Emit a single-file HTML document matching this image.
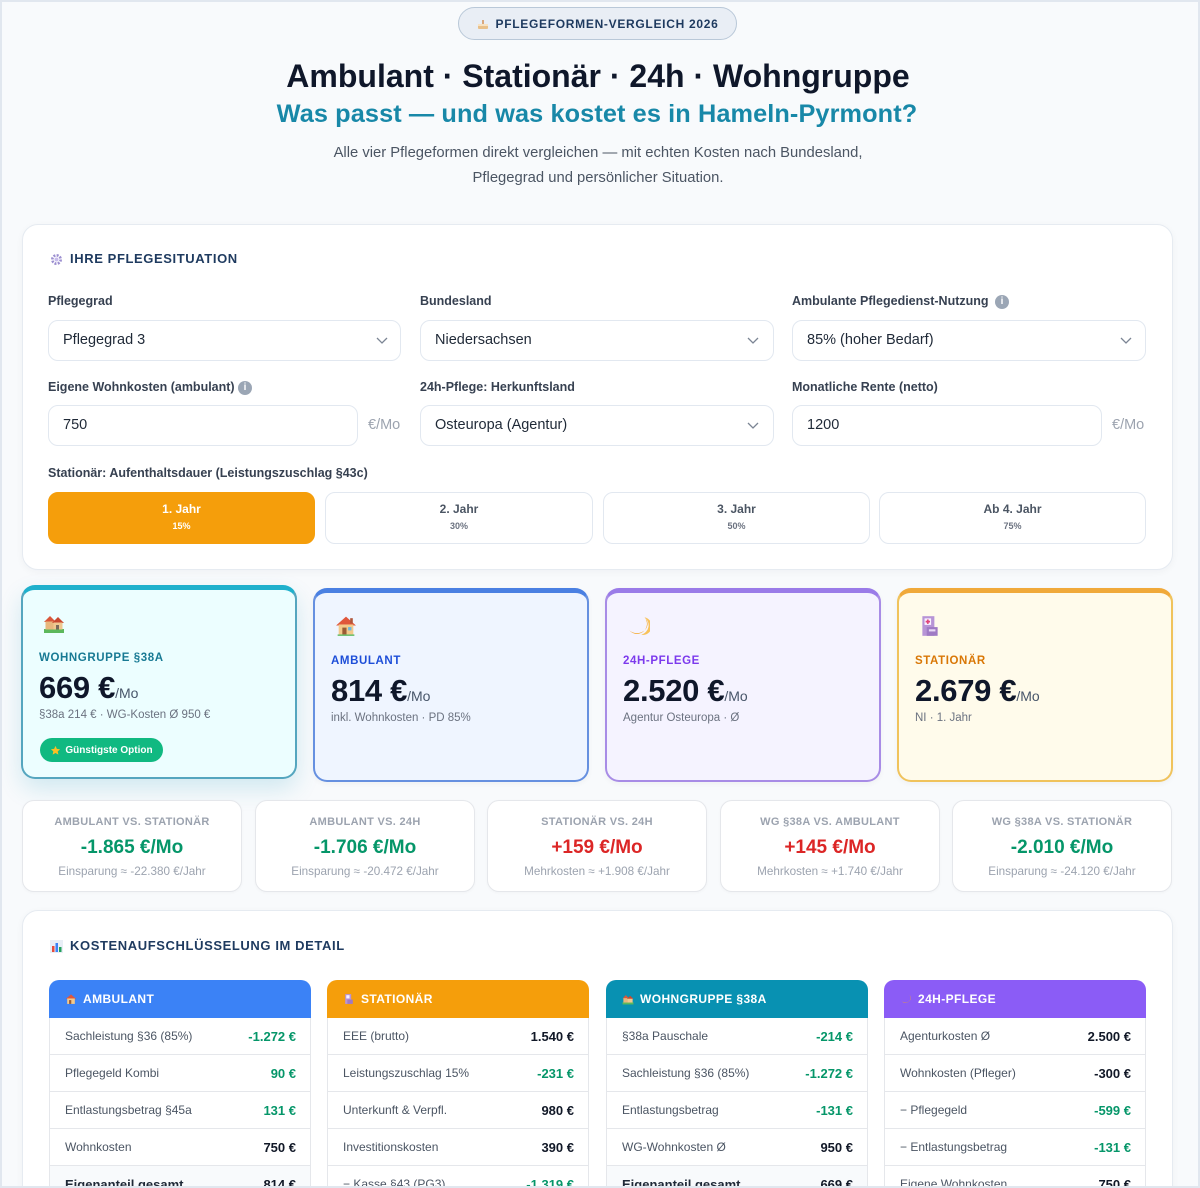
<!DOCTYPE html>
<html><head><meta charset="utf-8">
<style>
*{box-sizing:border-box;margin:0;padding:0}
html,body{width:1200px;height:1188px;overflow:hidden;background:#f8fafc;font-family:"Liberation Sans",sans-serif;position:relative}
.a{position:absolute;white-space:nowrap}
.frame{position:absolute;left:0;top:0;width:1200px;height:1188px;border:2px solid #e1e7ef;pointer-events:none;z-index:50}
.lbl{position:absolute;font-size:12.5px;font-weight:bold;color:#374151;line-height:16px;white-space:nowrap}
.box{position:absolute;height:41px;border:1px solid #e2e8f0;border-radius:10px;background:#fff;font-size:14.5px;color:#1f2937;line-height:39px;padding-left:14px;white-space:nowrap}
.chev{position:absolute;width:12px;height:7px}
.unit{position:absolute;font-size:14.5px;color:#9ca3af;line-height:41px}
.info{position:absolute;width:14px;height:14px;border-radius:50%;background:#9ba6b5;color:#fff;font-size:10px;font-weight:bold;text-align:center;line-height:14px}
.btn{position:absolute;top:492px;height:52px;border-radius:10px;background:#fff;border:1px solid #e2e8f0;text-align:center}
.btn .t1{position:absolute;left:0;right:0;top:8px;font-size:12px;font-weight:bold;line-height:16px;color:#4b5563}
.btn .t2{position:absolute;left:0;right:0;top:27px;font-size:9px;font-weight:bold;line-height:12px;color:#6b7280}
.btn.on{background:#f59e0b;border-color:#f59e0b}
.btn.on .t1,.btn.on .t2{color:#fff}
.card{position:absolute;width:276px;height:194px;border-radius:14px;border:2px solid;border-top-width:5px}
.clab{position:absolute;font-size:11.5px;font-weight:bold;letter-spacing:.6px;line-height:16px;white-space:nowrap}
.cval{position:absolute;font-size:31px;font-weight:bold;color:#0f172a;line-height:36px;white-space:nowrap;letter-spacing:-.3px}
.cval span{font-size:14px;font-weight:normal;color:#475569;letter-spacing:0}
.csub{position:absolute;font-size:11.5px;color:#6b7280;line-height:16px;white-space:nowrap}
.cmp{position:absolute;top:800px;width:220px;height:92px;background:#fff;border:1px solid #e5e7eb;border-radius:12px;text-align:center;box-shadow:0 1px 3px rgba(0,0,0,.03)}
.cmp .h{position:absolute;left:0;right:0;top:13px;font-size:11px;font-weight:bold;color:#9ca3af;letter-spacing:.3px;line-height:16px}
.cmp .v{position:absolute;left:0;right:0;top:35px;font-size:19px;font-weight:bold;line-height:24px}
.cmp .s{position:absolute;left:0;right:0;top:63px;font-size:11.7px;color:#9ca3af;line-height:16px}
.g{color:#059669}.r{color:#dc2626}.d{color:#111827}
.tbl{position:absolute;top:980px;width:262px}
.th{height:38px;border-radius:10px 10px 0 0;color:#fff;font-size:12px;font-weight:bold;letter-spacing:.4px;display:flex;align-items:center;padding-left:16px;gap:6px}
.tr{height:37px;border:1px solid #e5e7eb;border-top:none;display:flex;justify-content:space-between;align-items:center;padding:0 14px 0 15px;background:#fff}
.tr .l{font-size:12px;color:#4b5563}
.tr .v{font-size:13px;font-weight:bold}
.tr.tot{background:#f8fafc}
.tr.tot .l{font-weight:bold;color:#1f2937;font-size:13px}
</style></head><body>
<div class="frame"></div>

<!-- Badge -->
<div class="a" style="left:458px;top:7px;width:279px;height:33px;border:1.5px solid #b9c8d8;border-radius:17px;background:#e9eef5;display:flex;align-items:center;justify-content:center;gap:7px">
<svg width="12" height="12" viewBox="0 0 12 12"><rect x="1" y="6" width="10" height="5" rx="1" fill="#e9c089"/><rect x="1" y="6" width="10" height="2" fill="#f7e2c2"/><rect x="5.3" y="2" width="1.4" height="4" fill="#d28b4a"/></svg>
<span style="font-size:12px;font-weight:bold;letter-spacing:.7px;color:#1e3a5f">PFLEGEFORMEN-VERGLEICH 2026</span></div>

<div class="a" style="left:0;width:1196px;text-align:center;top:55px;line-height:42px;font-size:32px;font-weight:bold;color:#0f172a">Ambulant · Stationär · 24h · Wohngruppe</div>
<div class="a" style="left:0;width:1194px;text-align:center;top:98px;line-height:32px;font-size:25.3px;font-weight:bold;color:#1888a8;letter-spacing:.1px">Was passt — und was kostet es in Hameln-Pyrmont?</div>
<div class="a" style="left:0;width:1196px;text-align:center;top:141px;line-height:25px;font-size:14.8px;color:#4b5563">Alle vier Pflegeformen direkt vergleichen — mit echten Kosten nach Bundesland,<br>Pflegegrad und persönlicher Situation.</div>

<!-- Form card -->
<div class="a" style="left:22px;top:224px;width:1151px;height:346px;background:#fff;border:1px solid #e6ebf1;border-radius:16px;box-shadow:0 2px 8px rgba(15,23,42,.04)"></div>
<svg class="a" style="left:50px;top:253px" width="13" height="13" viewBox="0 0 13 13"><circle cx="6.5" cy="6.5" r="4.2" fill="none" stroke="#9c8fd0" stroke-width="2.6" stroke-dasharray="2 1.3"/><circle cx="6.5" cy="6.5" r="2" fill="#c8bdec"/></svg>
<div class="a" style="left:70px;top:251px;line-height:16px;font-size:13px;font-weight:bold;letter-spacing:.6px;color:#1e3a5f">IHRE PFLEGESITUATION</div>

<div class="lbl" style="left:48px;top:293px">Pflegegrad</div>
<div class="lbl" style="left:420px;top:293px">Bundesland</div>
<div class="lbl" style="left:792px;top:293px">Ambulante Pflegedienst-Nutzung</div>
<div class="info" style="left:995px;top:295px">i</div>

<div class="box" style="left:48px;top:320px;width:353px">Pflegegrad 3</div>
<div class="box" style="left:420px;top:320px;width:354px">Niedersachsen</div>
<div class="box" style="left:792px;top:320px;width:354px">85% (hoher Bedarf)</div>
<svg class="chev" style="left:376px;top:337px" viewBox="0 0 12 7"><polyline points="1,1 6,6 11,1" fill="none" stroke="#7b8594" stroke-width="1.3"/></svg>
<svg class="chev" style="left:747px;top:337px" viewBox="0 0 12 7"><polyline points="1,1 6,6 11,1" fill="none" stroke="#7b8594" stroke-width="1.3"/></svg>
<svg class="chev" style="left:1120px;top:337px" viewBox="0 0 12 7"><polyline points="1,1 6,6 11,1" fill="none" stroke="#7b8594" stroke-width="1.3"/></svg>

<div class="lbl" style="left:48px;top:379px">Eigene Wohnkosten (ambulant)</div>
<div class="info" style="left:238px;top:381px">i</div>
<div class="lbl" style="left:420px;top:379px">24h-Pflege: Herkunftsland</div>
<div class="lbl" style="left:792px;top:379px">Monatliche Rente (netto)</div>

<div class="box" style="left:48px;top:405px;width:310px">750</div>
<div class="unit" style="left:368px;top:405px">€/Mo</div>
<div class="box" style="left:420px;top:405px;width:354px">Osteuropa (Agentur)</div>
<svg class="chev" style="left:747px;top:422px" viewBox="0 0 12 7"><polyline points="1,1 6,6 11,1" fill="none" stroke="#7b8594" stroke-width="1.3"/></svg>
<div class="box" style="left:792px;top:405px;width:310px">1200</div>
<div class="unit" style="left:1112px;top:405px">€/Mo</div>

<div class="lbl" style="left:48px;top:465px">Stationär: Aufenthaltsdauer (Leistungszuschlag §43c)</div>
<div class="btn on" style="left:48px;width:267px"><div class="t1">1. Jahr</div><div class="t2">15%</div></div>
<div class="btn" style="left:325px;width:268px"><div class="t1">2. Jahr</div><div class="t2">30%</div></div>
<div class="btn" style="left:603px;width:267px"><div class="t1">3. Jahr</div><div class="t2">50%</div></div>
<div class="btn" style="left:879px;width:267px"><div class="t1">Ab 4. Jahr</div><div class="t2">75%</div></div>

<!-- Cards -->
<div class="card" style="left:21px;top:585px;background:#ecfeff;border-color:#55a6bf;border-top-color:#1fb0cc;box-shadow:0 10px 24px rgba(8,145,178,.16)"></div>
<div class="card" style="left:313px;top:588px;background:#eff5ff;border-color:#6690e0;border-top-color:#4a80e2;box-shadow:0 2px 6px rgba(0,0,0,.04)"></div>
<div class="card" style="left:605px;top:588px;background:#f5f3ff;border-color:#a88ce6;border-top-color:#9a7be8;box-shadow:0 2px 6px rgba(0,0,0,.04)"></div>
<div class="card" style="left:897px;top:588px;background:#fffbeb;border-color:#f0c35c;border-top-color:#f0a93a;box-shadow:0 2px 6px rgba(0,0,0,.04)"></div>

<!-- card 1 content -->
<svg class="a" style="left:42px;top:612px" width="24" height="22" viewBox="0 0 22 22"><rect x="1" y="17" width="20" height="4" fill="#5cb85c"/><path d="M1 10 L7 4 L13 10Z" fill="#d9573a"/><rect x="2.5" y="9.5" width="9" height="8" fill="#e8b77d"/><path d="M9 11 L15 5 L21 11Z" fill="#c9482f"/><rect x="10.5" y="10.5" width="9" height="7" fill="#f0c890"/><rect x="13" y="13" width="3" height="4.5" fill="#7a6a5a"/></svg>
<div class="clab" style="left:39px;top:650px;color:#187a94">WOHNGRUPPE §38A</div>
<div class="cval" style="left:39px;top:670px">669 €<span>/Mo</span></div>
<div class="csub" style="left:39px;top:707px">§38a 214 € · WG-Kosten Ø 950 €</div>
<div class="a" style="left:40px;top:738px;width:123px;height:24px;border-radius:12px;background:#10b981;display:flex;align-items:center;justify-content:center;gap:4px">
<svg width="11" height="11" viewBox="0 0 24 24"><path d="M12 2l3 6.5 7 .8-5.2 4.8 1.5 7L12 17.5 5.7 21l1.5-7L2 9.3l7-.8z" fill="#fbbf24"/></svg>
<span style="font-size:10px;font-weight:bold;color:#fff">Günstigste Option</span></div>

<!-- card 2 -->
<svg class="a" style="left:334px;top:614px" width="24" height="23" viewBox="0 0 22 22"><path d="M1.5 11 L11 2.5 L20.5 11 Z" fill="#e0563b"/><rect x="4" y="10" width="14" height="10" fill="#f3c98b"/><rect x="7.5" y="13" width="4" height="7" fill="#9a5b34"/><rect x="13" y="12.5" width="3.2" height="3.2" fill="#6bb7e0"/><rect x="15" y="4" width="2.5" height="5" fill="#b0553a"/><rect x="3" y="19.5" width="16" height="1.5" fill="#6cc070"/></svg>
<div class="clab" style="left:331px;top:653px;color:#1d4ed8">AMBULANT</div>
<div class="cval" style="left:331px;top:673px">814 €<span>/Mo</span></div>
<div class="csub" style="left:331px;top:710px">inkl. Wohnkosten · PD 85%</div>

<!-- card 3 -->
<svg class="a" style="left:626px;top:614px" width="24" height="24" viewBox="0 0 22 22"><path d="M17 3 A9 9 0 1 1 3 15 A8 7 0 0 0 17 3Z" fill="#f5a623"/><path d="M17 3 A9 9 0 0 1 14 19 A7 7 0 0 0 17 3Z" fill="#f8c25a"/></svg>
<div class="clab" style="left:623px;top:653px;color:#7c3aed">24H-PFLEGE</div>
<div class="cval" style="left:623px;top:673px">2.520 €<span>/Mo</span></div>
<div class="csub" style="left:623px;top:710px">Agentur Osteuropa · Ø</div>

<!-- card 4 -->
<svg class="a" style="left:918px;top:614px" width="24" height="24" viewBox="0 0 22 22"><rect x="4" y="2" width="11" height="18" fill="#b794d6"/><rect x="6" y="4" width="6" height="6" fill="#f8f0ff"/><path d="M9 5v4M7 7h4" stroke="#e0457b" stroke-width="1.6"/><rect x="8" y="12" width="10" height="8" fill="#9f7ac4"/><rect x="10" y="14" width="6" height="2" fill="#e8d8f6"/></svg>
<div class="clab" style="left:915px;top:653px;color:#d97706">STATIONÄR</div>
<div class="cval" style="left:915px;top:673px">2.679 €<span>/Mo</span></div>
<div class="csub" style="left:915px;top:710px">NI · 1. Jahr</div>

<!-- Comparison -->
<div class="cmp" style="left:22px"><div class="h">AMBULANT VS. STATIONÄR</div><div class="v g">-1.865 €/Mo</div><div class="s">Einsparung ≈ -22.380 €/Jahr</div></div>
<div class="cmp" style="left:255px"><div class="h">AMBULANT VS. 24H</div><div class="v g">-1.706 €/Mo</div><div class="s">Einsparung ≈ -20.472 €/Jahr</div></div>
<div class="cmp" style="left:487px"><div class="h">STATIONÄR VS. 24H</div><div class="v r">+159 €/Mo</div><div class="s">Mehrkosten ≈ +1.908 €/Jahr</div></div>
<div class="cmp" style="left:720px"><div class="h">WG §38A VS. AMBULANT</div><div class="v r">+145 €/Mo</div><div class="s">Mehrkosten ≈ +1.740 €/Jahr</div></div>
<div class="cmp" style="left:952px"><div class="h">WG §38A VS. STATIONÄR</div><div class="v g">-2.010 €/Mo</div><div class="s">Einsparung ≈ -24.120 €/Jahr</div></div>

<!-- Detail card -->
<div class="a" style="left:22px;top:910px;width:1151px;height:320px;background:#fff;border:1px solid #e6ebf1;border-radius:16px;box-shadow:0 2px 8px rgba(15,23,42,.04)"></div>
<svg class="a" style="left:50px;top:940px" width="13" height="13" viewBox="0 0 13 13"><rect x="0" y="0" width="13" height="13" fill="#e8eef6"/><rect x="2" y="6" width="2.5" height="6" fill="#e74c3c"/><rect x="5.5" y="3" width="2.5" height="9" fill="#3b82f6"/><rect x="9" y="7" width="2.5" height="5" fill="#22a05a"/></svg>
<div class="a" style="left:70px;top:938px;line-height:16px;font-size:13px;font-weight:bold;letter-spacing:.6px;color:#1e3a5f">KOSTENAUFSCHLÜSSELUNG IM DETAIL</div>

<div class="tbl" style="left:49px">
<div class="th" style="background:#3b82f6"><svg width="12" height="12" viewBox="0 0 22 22"><path d="M1.5 11 L11 2.5 L20.5 11 Z" fill="#e0563b"/><rect x="4" y="10" width="14" height="10" fill="#f3c98b"/><rect x="7.5" y="13" width="4" height="7" fill="#9a5b34"/></svg>AMBULANT</div>
<div class="tr"><span class="l">Sachleistung §36 (85%)</span><span class="v g">-1.272 €</span></div>
<div class="tr"><span class="l">Pflegegeld Kombi</span><span class="v g">90 €</span></div>
<div class="tr"><span class="l">Entlastungsbetrag §45a</span><span class="v g">131 €</span></div>
<div class="tr"><span class="l">Wohnkosten</span><span class="v d">750 €</span></div>
<div class="tr tot"><span class="l">Eigenanteil gesamt</span><span class="v d">814 €</span></div>
</div>

<div class="tbl" style="left:327px">
<div class="th" style="background:#f59e0b"><svg width="12" height="12" viewBox="0 0 22 22"><rect x="4" y="2" width="11" height="18" fill="#b794d6"/><rect x="6" y="4" width="6" height="6" fill="#f8f0ff"/><rect x="8" y="12" width="10" height="8" fill="#9f7ac4"/></svg>STATIONÄR</div>
<div class="tr"><span class="l">EEE (brutto)</span><span class="v d">1.540 €</span></div>
<div class="tr"><span class="l">Leistungszuschlag 15%</span><span class="v g">-231 €</span></div>
<div class="tr"><span class="l">Unterkunft &amp; Verpfl.</span><span class="v d">980 €</span></div>
<div class="tr"><span class="l">Investitionskosten</span><span class="v d">390 €</span></div>
<div class="tr"><span class="l">− Kasse §43 (PG3)</span><span class="v g">-1.319 €</span></div>
</div>

<div class="tbl" style="left:606px">
<div class="th" style="background:#0891b2"><svg width="12" height="12" viewBox="0 0 22 22"><rect x="1" y="17" width="20" height="4" fill="#5cb85c"/><path d="M1 10 L7 4 L13 10Z" fill="#d9573a"/><rect x="2.5" y="9.5" width="9" height="8" fill="#e8b77d"/><path d="M9 11 L15 5 L21 11Z" fill="#c9482f"/><rect x="10.5" y="10.5" width="9" height="7" fill="#f0c890"/></svg>WOHNGRUPPE §38A</div>
<div class="tr"><span class="l">§38a Pauschale</span><span class="v g">-214 €</span></div>
<div class="tr"><span class="l">Sachleistung §36 (85%)</span><span class="v g">-1.272 €</span></div>
<div class="tr"><span class="l">Entlastungsbetrag</span><span class="v g">-131 €</span></div>
<div class="tr"><span class="l">WG-Wohnkosten Ø</span><span class="v d">950 €</span></div>
<div class="tr tot"><span class="l">Eigenanteil gesamt</span><span class="v d">669 €</span></div>
</div>

<div class="tbl" style="left:884px">
<div class="th" style="background:#8b5cf6"><svg width="12" height="12" viewBox="0 0 22 22"><path d="M17 3 A9 9 0 1 1 3 15 A8 7 0 0 0 17 3Z" fill="#f5a623"/></svg>24H-PFLEGE</div>
<div class="tr"><span class="l">Agenturkosten Ø</span><span class="v d">2.500 €</span></div>
<div class="tr"><span class="l">Wohnkosten (Pfleger)</span><span class="v d">-300 €</span></div>
<div class="tr"><span class="l">− Pflegegeld</span><span class="v g">-599 €</span></div>
<div class="tr"><span class="l">− Entlastungsbetrag</span><span class="v g">-131 €</span></div>
<div class="tr"><span class="l">Eigene Wohnkosten</span><span class="v d">750 €</span></div>
</div>

</body></html>
